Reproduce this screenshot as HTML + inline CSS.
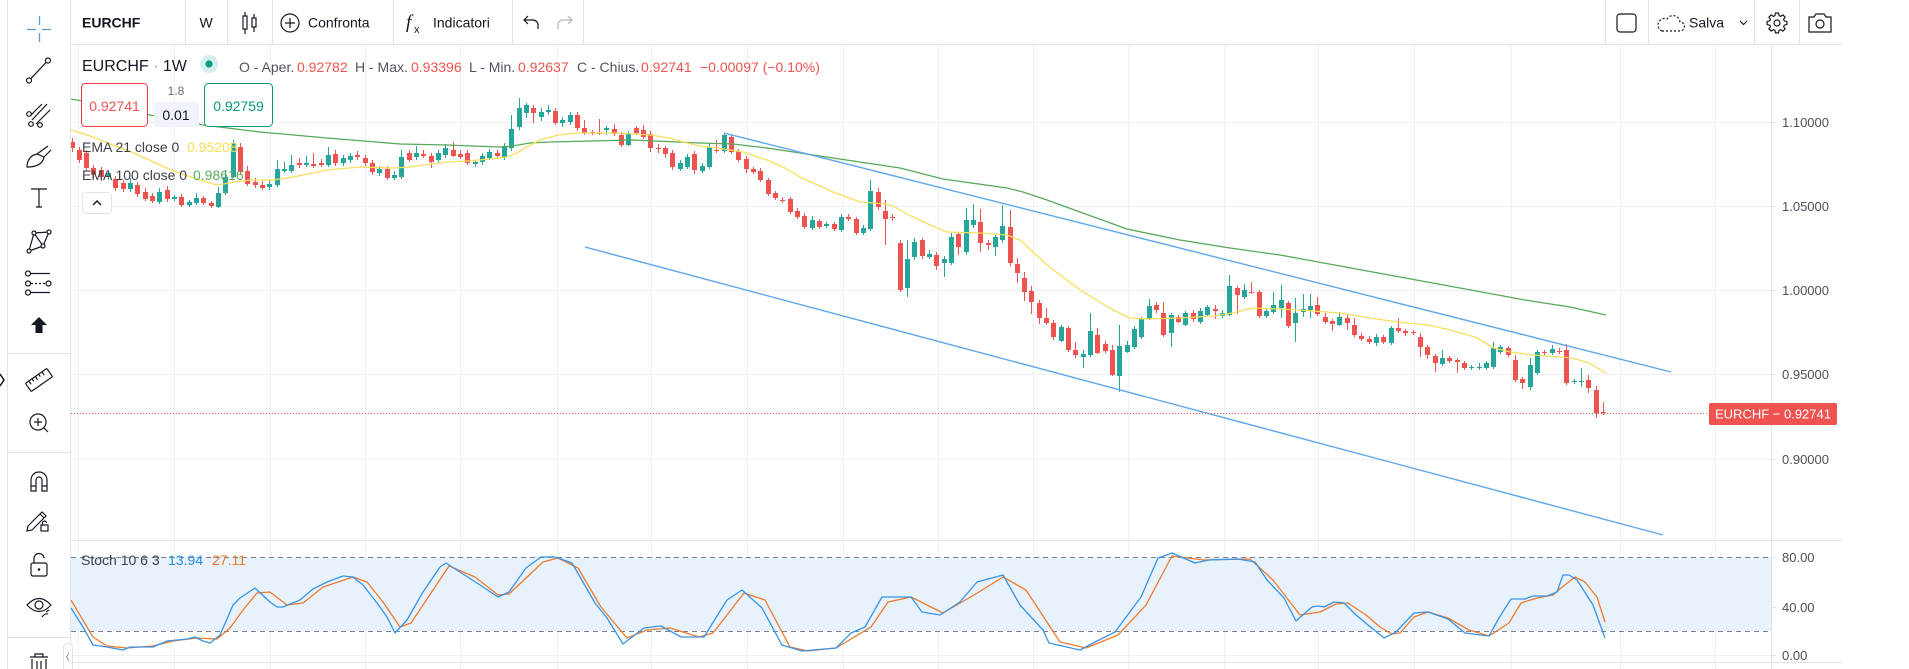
<!DOCTYPE html>
<html><head><meta charset="utf-8">
<style>
html,body{margin:0;padding:0;background:#fff}
body{width:1909px;height:669px;overflow:hidden;position:relative;font-family:"Liberation Sans",Arial,sans-serif}
svg{position:absolute;left:0;top:0}
.clip{position:absolute;left:71px;top:45px;width:1700px;height:495px;overflow:hidden}
.cd{position:absolute;left:-2.67px;top:-45px;height:669px;display:flex}
.cd i{position:relative;flex:none;width:7.34px;height:669px}
.cd i:before{content:"";position:absolute;left:3.17px;width:1px;top:calc(var(--h)*1px);height:calc((var(--l) - var(--h))*1px);background:var(--c)}
.cd i:after{content:"";position:absolute;left:1.17px;width:5px;top:calc(var(--t)*1px);height:calc((var(--b) - var(--t))*1px);background:var(--c)}
.g{--c:#26a69a}.r{--c:#ef5350}
</style></head>
<body>
<svg width="1909" height="669" font-family="Liberation Sans, Arial, sans-serif">
<!-- grid -->
<g stroke="#eef0f4" stroke-width="1">
<path d="M78.5 45V669M174.5 45V669M270.5 45V669M365.5 45V669M460.5 45V669M557.5 45V669M651.5 45V669M747.5 45V669M843.5 45V669M938.5 45V669M1033.5 45V669M1128.5 45V669M1224.5 45V669M1318.5 45V669M1414.5 45V669M1511.5 45V669M1620.5 45V669M1715.5 45V669"/>
<path d="M71 122.5H1771M71 206.5H1771M71 290.5H1771M71 374.5H1771M71 459.5H1771M71 607.5H1771M71 655.5H1771"/>
</g>
<rect x="71" y="557" width="1700" height="74" fill="#e7f2fd"/>
<g stroke="#7d808a" stroke-width="1" stroke-dasharray="5 4">
<path d="M71 557.5H1771M71 631.5H1771"/>
</g>
<!-- borders -->
<g stroke="#e0e3eb" stroke-width="1">
<path d="M7.5 0V669M70.5 0V669M70 44.5H1842M70 540.5H1842M70 662.5H1842M1771.5 44V669"/>
<path d="M185.5 0V44M227.5 0V44M272.5 0V44M393.5 0V44M512.5 0V44M583.5 0V44M1605.5 0V44M1648.5 0V44M1754.5 0V44M1799.5 0V44"/>
<path d="M8 353.5H70M8 452.5H70M8 637.5H70"/>
<path d="M1771 122.5h5M1771 206.5h5M1771 290.5h5M1771 374.5h5M1771 459.5h5M1771 557.5h5M1771 607.5h5M1771 655.5h5"/>
</g>
<!-- left toolbar icons -->
<g fill="none" stroke="#5b9bd5" stroke-width="1.3"><path d="M27 29.5H36M42 29.5H51M39.5 16V25M39.5 33V42"/></g>
<g fill="none" stroke="#131722" stroke-width="1.2">
<line x1="30.8" y1="78.7" x2="46.2" y2="62.3"/><circle cx="29" cy="80.5" r="2.5" fill="#fff"/><circle cx="48" cy="60.5" r="2.5" fill="#fff"/>
<path d="M32 120L47 104M36 124L50 110M30 116L42 104"/><circle cx="29" cy="114" r="2.3" fill="#fff"/><circle cx="31" cy="124" r="2.3" fill="#fff"/><circle cx="40" cy="125" r="2.3" fill="#fff"/>
<path d="M27 167C27 160 31 155 37 154L44 157C43 163 38 167 27 167ZM37 154L48 146M44 157L51 150"/>
<path d="M31 189H47M39 189V207M36 207H42"/>
<path d="M29 251L34 233L43 246L49 232M34 233L49 232M29 251L43 246"/><circle cx="29" cy="251" r="2" fill="#fff"/><circle cx="34" cy="233" r="2" fill="#fff"/><circle cx="43" cy="246" r="2" fill="#fff"/><circle cx="49" cy="232" r="2" fill="#fff"/>
<path d="M31 273.5H50M31 292.5H50"/><path d="M31 283.5H46" stroke-dasharray="2 2"/><circle cx="28" cy="273.5" r="2.5"/><circle cx="28" cy="283.5" r="2.5"/><circle cx="28" cy="292.5" r="2.5"/><circle cx="48.5" cy="283.5" r="2.5"/>
<g transform="rotate(-35 39 380)"><rect x="26" y="375" width="26" height="10" rx="1"/><path d="M30 375v4M34 375v3M38 375v4M42 375v3M46 375v4"/></g>
<circle cx="38" cy="422" r="8"/><path d="M44 428L48 432M34 422H42M38 418V426"/>
<path d="M31 491V480A8 8 0 0 1 47 480V491H42V480A3 3 0 0 0 36 480V491ZM31 486H36M42 486H47"/>
<path d="M28 526L42 512L46 516L32 530L27 531ZM40 514L44 518"/><rect x="41" y="525" width="7" height="6"/><path d="M42.5 525v-2a2 2 0 0 1 4 0"/>
<rect x="31" y="563" width="16" height="13" rx="2"/><path d="M34 563V559A5 5 0 0 1 44 558"/>
<path d="M27 605Q39 592 51 605Q39 618 27 605Z"/><circle cx="39" cy="605" r="4"/><path d="M42 617q3-4 6-3M46 612l3-2"/>
<path d="M30 657H48M35 657V654H43V657M32 659V672H46V659M37 661V670M41 661V670"/>
<path d="M0 374L4 380L0 386" stroke-width="1.5"/>
</g>
<circle cx="39" cy="569.5" r="1.3" fill="#131722"/>
<path d="M39 317L47 325H42.5V333H35.5V325H31Z" fill="#131722"/>
<rect x="63.5" y="643.5" width="9" height="28" rx="4" fill="#fff" stroke="#e0e3eb"/>
<path d="M69 653L66.5 657L69 661" fill="none" stroke="#9598a1" stroke-width="1"/>
<!-- top toolbar icons -->
<g fill="none" stroke="#131722" stroke-width="1.2">
<path d="M245 12V34M254 14V32"/><rect x="243" y="16" width="4" height="13" fill="#fff"/><rect x="252" y="18" width="4" height="9" fill="#fff"/>
<circle cx="290" cy="23" r="9"/><path d="M290 18V28M285 23H295"/>
<path d="M538 29V25A5 5 0 0 0 533 20H524M528 16L524 20L528 24"/>
<rect x="1617" y="14" width="19" height="18" rx="3"/>
<path d="M1662 31H1680A4.5 4.5 0 0 0 1680 22A7 7 0 0 0 1667 19A6 6 0 0 0 1662 31" stroke-dasharray="2 2"/>
<path d="M1740 21L1743.5 24.5L1747 21"/>
<path transform="translate(1777 23)" d="M7.306 -2.095L9.877 -1.564L9.877 1.564L7.306 2.095L6.647 3.684L8.09 5.878L5.878 8.09L3.684 6.647L2.095 7.306L1.564 9.877L-1.564 9.877L-2.095 7.306L-3.684 6.647L-5.878 8.09L-8.09 5.878L-6.647 3.684L-7.306 2.095L-9.877 1.564L-9.877 -1.564L-7.306 -2.095L-6.647 -3.684L-8.09 -5.878L-5.878 -8.09L-3.684 -6.647L-2.095 -7.306L-1.564 -9.877L1.564 -9.877L2.095 -7.306L3.684 -6.647L5.878 -8.09L8.09 -5.878L6.647 -3.684Z"/>
<circle cx="1777" cy="23" r="3"/>
<path d="M1809 17h5l2-3h8l2 3h5v15h-22z"/><circle cx="1820" cy="24" r="4"/>
</g>
<path d="M558 29V25A5 5 0 0 1 563 20H572M568 16L572 20L568 24" fill="none" stroke="#b2b5be" stroke-width="1.2"/>
<!-- toolbar text -->
<g fill="#131722" font-size="14">
<text x="82" y="27.5" font-weight="bold">EURCHF</text>
<text x="199.5" y="27.5">W</text>
<text x="308" y="27.5">Confronta</text>
<text x="406" y="28" font-family="Liberation Serif, serif" font-style="italic" font-size="19">f</text>
<text x="414" y="33" font-size="11">x</text>
<text x="433" y="27.5">Indicatori</text>
<text x="1689" y="27.5">Salva</text>
</g>
<!-- price axis labels -->
<g fill="#4c4f59" font-size="13">
<text x="1782" y="127">1.10000</text>
<text x="1782" y="211">1.05000</text>
<text x="1782" y="295">1.00000</text>
<text x="1782" y="379">0.95000</text>
<text x="1782" y="464">0.90000</text>
<text x="1782" y="562">80.00</text>
<text x="1782" y="612">40.00</text>
<text x="1782" y="660">0.00</text>
</g>
</svg>

<div class="clip"><div class="cd">
<i class=r style="--h:138;--t:142;--b:148;--l:152"></i><i class=r style="--h:147;--t:150;--b:160;--l:163"></i><i class=r style="--h:150;--t:153;--b:168;--l:171"></i><i class=r style="--h:165;--t:168;--b:175;--l:178"></i><i class=r style="--h:167;--t:170;--b:177;--l:181"></i><i class=g style="--h:170;--t:173;--b:177;--l:180"></i><i class=r style="--h:176;--t:179;--b:188;--l:191"></i><i class=r style="--h:180;--t:183;--b:189;--l:192"></i><i class=g style="--h:178;--t:183;--b:189;--l:192"></i><i class=r style="--h:182;--t:185;--b:194;--l:197"></i>
<i class=r style="--h:188;--t:192;--b:199;--l:201"></i><i class=r style="--h:193;--t:196;--b:201;--l:203"></i><i class=g style="--h:188;--t:192;--b:202;--l:204"></i><i class=r style="--h:186;--t:190;--b:199;--l:202"></i><i class=g style="--h:195;--t:197;--b:199;--l:201"></i><i class=r style="--h:194;--t:197;--b:205;--l:207"></i><i class=g style="--h:200;--t:202;--b:205;--l:207"></i><i class=g style="--h:193;--t:198;--b:203;--l:205"></i><i class=r style="--h:196;--t:198;--b:203;--l:205"></i><i class=r style="--h:201;--t:203;--b:206;--l:208"></i>
<i class=g style="--h:187;--t:193;--b:207;--l:208"></i><i class=g style="--h:170;--t:177;--b:193;--l:195"></i><i class=g style="--h:140;--t:143;--b:177;--l:178"></i><i class=r style="--h:143;--t:147;--b:172;--l:175"></i><i class=r style="--h:166;--t:171;--b:184;--l:186"></i><i class=r style="--h:178;--t:182;--b:185;--l:188"></i><i class=r style="--h:181;--t:185;--b:188;--l:190"></i><i class=g style="--h:180;--t:184;--b:187;--l:190"></i><i class=g style="--h:160;--t:169;--b:185;--l:187"></i><i class=g style="--h:162;--t:169;--b:171;--l:173"></i>
<i class=g style="--h:155;--t:165;--b:171;--l:173"></i><i class=r style="--h:158;--t:163;--b:165;--l:168"></i><i class=g style="--h:156;--t:163;--b:165;--l:167"></i><i class=r style="--h:153;--t:164;--b:166;--l:168"></i><i class=r style="--h:159;--t:163;--b:165;--l:167"></i><i class=g style="--h:147;--t:155;--b:165;--l:167"></i><i class=r style="--h:150;--t:154;--b:163;--l:166"></i><i class=g style="--h:155;--t:158;--b:163;--l:166"></i><i class=g style="--h:153;--t:156;--b:160;--l:163"></i><i class=r style="--h:151;--t:155;--b:157;--l:160"></i>
<i class=r style="--h:155;--t:158;--b:163;--l:166"></i><i class=r style="--h:160;--t:163;--b:172;--l:175"></i><i class=g style="--h:166;--t:169;--b:173;--l:176"></i><i class=r style="--h:166;--t:169;--b:178;--l:180"></i><i class=g style="--h:171;--t:175;--b:178;--l:180"></i><i class=g style="--h:150;--t:157;--b:177;--l:179"></i><i class=r style="--h:150;--t:153;--b:160;--l:162"></i><i class=g style="--h:146;--t:153;--b:157;--l:160"></i><i class=r style="--h:150;--t:154;--b:156;--l:158"></i><i class=r style="--h:153;--t:156;--b:162;--l:168"></i>
<i class=g style="--h:150;--t:153;--b:160;--l:163"></i><i class=g style="--h:144;--t:148;--b:155;--l:158"></i><i class=r style="--h:142;--t:150;--b:156;--l:157"></i><i class=r style="--h:150;--t:154;--b:157;--l:159"></i><i class=r style="--h:150;--t:153;--b:163;--l:165"></i><i class=g style="--h:160;--t:162;--b:164;--l:167"></i><i class=g style="--h:153;--t:156;--b:162;--l:165"></i><i class=g style="--h:149;--t:152;--b:158;--l:160"></i><i class=r style="--h:150;--t:153;--b:156;--l:159"></i><i class=g style="--h:143;--t:146;--b:157;--l:160"></i>
<i class=g style="--h:115;--t:129;--b:148;--l:151"></i><i class=g style="--h:98;--t:108;--b:127;--l:130"></i><i class=g style="--h:103;--t:105;--b:113;--l:118"></i><i class=r style="--h:105;--t:108;--b:113;--l:123"></i><i class=g style="--h:108;--t:112;--b:117;--l:121"></i><i class=g style="--h:105;--t:110;--b:112;--l:115"></i><i class=r style="--h:108;--t:111;--b:123;--l:125"></i><i class=g style="--h:117;--t:120;--b:123;--l:127"></i><i class=g style="--h:112;--t:115;--b:122;--l:125"></i><i class=r style="--h:112;--t:115;--b:128;--l:131"></i>
<i class=r style="--h:120;--t:128;--b:133;--l:135"></i><i class=r style="--h:130;--t:132;--b:133;--l:135"></i><i class=r style="--h:119;--t:133;--b:134;--l:135"></i><i class=g style="--h:126;--t:128;--b:130;--l:135"></i><i class=r style="--h:124;--t:129;--b:134;--l:136"></i><i class=r style="--h:132;--t:135;--b:145;--l:147"></i><i class=g style="--h:131;--t:133;--b:145;--l:146"></i><i class=r style="--h:126;--t:128;--b:133;--l:135"></i><i class=r style="--h:125;--t:130;--b:137;--l:139"></i><i class=r style="--h:131;--t:134;--b:148;--l:152"></i>
<i class=r style="--h:144;--t:148;--b:149;--l:153"></i><i class=r style="--h:146;--t:148;--b:154;--l:158"></i><i class=r style="--h:150;--t:153;--b:167;--l:170"></i><i class=g style="--h:160;--t:163;--b:169;--l:171"></i><i class=g style="--h:154;--t:157;--b:167;--l:169"></i><i class=r style="--h:151;--t:154;--b:170;--l:174"></i><i class=g style="--h:163;--t:166;--b:171;--l:173"></i><i class=g style="--h:143;--t:147;--b:167;--l:169"></i><i class=r style="--h:140;--t:150;--b:151;--l:153"></i><i class=g style="--h:133;--t:135;--b:151;--l:153"></i>
<i class=r style="--h:134;--t:137;--b:152;--l:154"></i><i class=r style="--h:149;--t:151;--b:160;--l:162"></i><i class=r style="--h:156;--t:159;--b:169;--l:173"></i><i class=r style="--h:167;--t:169;--b:172;--l:174"></i><i class=r style="--h:168;--t:171;--b:180;--l:182"></i><i class=r style="--h:178;--t:180;--b:194;--l:196"></i><i class=r style="--h:191;--t:193;--b:198;--l:200"></i><i class=r style="--h:197;--t:200;--b:201;--l:203"></i><i class=r style="--h:197;--t:199;--b:212;--l:214"></i><i class=r style="--h:208;--t:211;--b:217;--l:219"></i>
<i class=r style="--h:213;--t:216;--b:227;--l:229"></i><i class=g style="--h:216;--t:220;--b:228;--l:230"></i><i class=r style="--h:219;--t:221;--b:227;--l:229"></i><i class=g style="--h:222;--t:224;--b:226;--l:228"></i><i class=r style="--h:222;--t:224;--b:229;--l:231"></i><i class=g style="--h:214;--t:217;--b:230;--l:232"></i><i class=r style="--h:214;--t:217;--b:219;--l:221"></i><i class=r style="--h:217;--t:219;--b:233;--l:235"></i><i class=g style="--h:225;--t:228;--b:233;--l:235"></i><i class=g style="--h:180;--t:191;--b:229;--l:231"></i>
<i class=r style="--h:188;--t:192;--b:207;--l:210"></i><i class=r style="--h:200;--t:211;--b:219;--l:245"></i><i class=r style="--h:214;--t:217;--b:218;--l:221"></i><i class=r style="--h:240;--t:243;--b:290;--l:292"></i><i class=g style="--h:240;--t:259;--b:288;--l:297"></i><i class=g style="--h:238;--t:242;--b:257;--l:260"></i><i class=r style="--h:238;--t:240;--b:256;--l:259"></i><i class=g style="--h:250;--t:254;--b:257;--l:259"></i><i class=r style="--h:252;--t:255;--b:266;--l:270"></i><i class=g style="--h:256;--t:259;--b:263;--l:277"></i>
<i class=g style="--h:233;--t:237;--b:263;--l:265"></i><i class=r style="--h:232;--t:234;--b:247;--l:255"></i><i class=g style="--h:208;--t:220;--b:252;--l:255"></i><i class=g style="--h:204;--t:220;--b:225;--l:228"></i><i class=r style="--h:209;--t:222;--b:243;--l:252"></i><i class=r style="--h:240;--t:243;--b:245;--l:250"></i><i class=g style="--h:235;--t:237;--b:247;--l:256"></i><i class=g style="--h:205;--t:226;--b:240;--l:243"></i><i class=r style="--h:210;--t:227;--b:263;--l:266"></i><i class=r style="--h:258;--t:264;--b:273;--l:283"></i>
<i class=r style="--h:272;--t:278;--b:292;--l:301"></i><i class=r style="--h:286;--t:291;--b:302;--l:314"></i><i class=r style="--h:300;--t:303;--b:318;--l:324"></i><i class=r style="--h:308;--t:318;--b:323;--l:325"></i><i class=r style="--h:320;--t:323;--b:337;--l:340"></i><i class=g style="--h:325;--t:327;--b:341;--l:342"></i><i class=r style="--h:326;--t:328;--b:350;--l:352"></i><i class=r style="--h:342;--t:350;--b:355;--l:358"></i><i class=g style="--h:350;--t:354;--b:357;--l:368"></i><i class=g style="--h:313;--t:331;--b:355;--l:357"></i>
<i class=r style="--h:328;--t:335;--b:353;--l:354"></i><i class=r style="--h:341;--t:344;--b:351;--l:353"></i><i class=r style="--h:345;--t:350;--b:375;--l:376"></i><i class=g style="--h:325;--t:346;--b:376;--l:392"></i><i class=g style="--h:341;--t:345;--b:352;--l:353"></i><i class=g style="--h:326;--t:329;--b:347;--l:349"></i><i class=g style="--h:317;--t:319;--b:337;--l:339"></i><i class=g style="--h:299;--t:306;--b:319;--l:320"></i><i class=r style="--h:302;--t:305;--b:310;--l:313"></i><i class=r style="--h:302;--t:313;--b:335;--l:337"></i>
<i class=g style="--h:313;--t:315;--b:333;--l:347"></i><i class=r style="--h:315;--t:317;--b:322;--l:323"></i><i class=g style="--h:311;--t:313;--b:325;--l:326"></i><i class=r style="--h:310;--t:313;--b:319;--l:322"></i><i class=g style="--h:308;--t:311;--b:322;--l:324"></i><i class=g style="--h:305;--t:307;--b:315;--l:316"></i><i class=r style="--h:305;--t:309;--b:311;--l:319"></i><i class=g style="--h:310;--t:313;--b:316;--l:318"></i><i class=g style="--h:275;--t:286;--b:315;--l:316"></i><i class=r style="--h:286;--t:288;--b:295;--l:314"></i>
<i class=g style="--h:284;--t:290;--b:297;--l:299"></i><i class=r style="--h:282;--t:292;--b:293;--l:294"></i><i class=r style="--h:290;--t:292;--b:316;--l:318"></i><i class=g style="--h:308;--t:311;--b:316;--l:318"></i><i class=g style="--h:292;--t:305;--b:312;--l:314"></i><i class=g style="--h:285;--t:300;--b:308;--l:318"></i><i class=r style="--h:301;--t:303;--b:326;--l:328"></i><i class=g style="--h:298;--t:313;--b:323;--l:342"></i><i class=g style="--h:294;--t:309;--b:312;--l:317"></i><i class=g style="--h:294;--t:306;--b:310;--l:318"></i>
<i class=r style="--h:297;--t:305;--b:314;--l:316"></i><i class=r style="--h:313;--t:317;--b:322;--l:324"></i><i class=r style="--h:319;--t:321;--b:324;--l:331"></i><i class=g style="--h:312;--t:317;--b:325;--l:326"></i><i class=r style="--h:315;--t:318;--b:323;--l:330"></i><i class=r style="--h:318;--t:325;--b:335;--l:337"></i><i class=r style="--h:333;--t:336;--b:339;--l:341"></i><i class=r style="--h:336;--t:339;--b:342;--l:344"></i><i class=g style="--h:334;--t:337;--b:343;--l:346"></i><i class=r style="--h:335;--t:337;--b:342;--l:344"></i>
<i class=g style="--h:326;--t:328;--b:343;--l:345"></i><i class=r style="--h:318;--t:328;--b:331;--l:333"></i><i class=r style="--h:329;--t:331;--b:333;--l:336"></i><i class=r style="--h:330;--t:332;--b:333;--l:335"></i><i class=r style="--h:333;--t:337;--b:347;--l:357"></i><i class=r style="--h:345;--t:347;--b:355;--l:359"></i><i class=r style="--h:354;--t:356;--b:363;--l:372"></i><i class=g style="--h:350;--t:358;--b:364;--l:366"></i><i class=r style="--h:356;--t:358;--b:361;--l:363"></i><i class=r style="--h:358;--t:360;--b:362;--l:373"></i>
<i class=r style="--h:361;--t:363;--b:368;--l:370"></i><i class=g style="--h:365;--t:367;--b:368;--l:370"></i><i class=g style="--h:363;--t:367;--b:368;--l:370"></i><i class=g style="--h:361;--t:363;--b:368;--l:370"></i><i class=g style="--h:342;--t:348;--b:367;--l:369"></i><i class=g style="--h:345;--t:347;--b:352;--l:354"></i><i class=r style="--h:346;--t:348;--b:355;--l:357"></i><i class=r style="--h:355;--t:360;--b:380;--l:382"></i><i class=r style="--h:377;--t:379;--b:383;--l:389"></i><i class=g style="--h:358;--t:365;--b:387;--l:390"></i>
<i class=g style="--h:350;--t:352;--b:373;--l:375"></i><i class=r style="--h:350;--t:352;--b:353;--l:355"></i><i class=g style="--h:345;--t:349;--b:353;--l:355"></i><i class=r style="--h:348;--t:351;--b:352;--l:354"></i><i class=r style="--h:344;--t:350;--b:383;--l:385"></i><i class=g style="--h:379;--t:381;--b:382;--l:384"></i><i class=g style="--h:368;--t:381;--b:382;--l:387"></i><i class=r style="--h:375;--t:380;--b:388;--l:393"></i><i class=r style="--h:386;--t:390;--b:413;--l:418"></i><i class=r style="--h:402;--t:412;--b:413;--l:415"></i>
</div></div>

<svg width="1909" height="669" font-family="Liberation Sans, Arial, sans-serif">
<defs>
<clipPath id="cm"><rect x="71" y="45" width="1700" height="495"/></clipPath>
<clipPath id="cs"><rect x="71" y="541" width="1700" height="121"/></clipPath>
</defs>
<g clip-path="url(#cm)" fill="none" stroke-linejoin="round">
<polyline stroke="#57a85b" stroke-width="1.3" points="71,99 100,104 150,115 203,125 260,132 327,138 400,144 446,145 500,147 512,146 530,143 550,142 633,140 700,143 733,144 767,148 800,153 833,158 880,165 900,168 943,179 1007,188 1023,192 1047,200 1080,212 1127,229 1180,240 1230,248 1280,255 1340,266 1400,277 1460,288 1525,300 1570,307 1606,315"/>
<polyline stroke="#f5df5c" stroke-width="1.3" points="71,130 90,136 110,144 134,153 160,165 179,173 200,180 217,185 235,182 250,180 273,180 293,177 327,170 360,167 393,168 410,167 446,162 467,161 490,159 507,157 517,153 527,147 540,140 558,135 577,133 617,133 650,135 670,138 683,142 700,146 717,148 743,152 767,160 785,168 800,177 833,192 860,202 885,204 895,207 907,214 930,225 947,232 980,233 1007,235 1020,240 1047,265 1080,290 1113,310 1130,318 1147,319 1180,318 1213,316 1233,313 1253,308 1280,309 1313,311 1340,313 1370,318 1397,322 1428,325 1450,330 1475,337 1494,348 1510,352 1533,355 1560,357 1572,358 1589,363 1606,373"/>
<line x1="724" y1="133" x2="1671" y2="372" stroke="#5ea7ea" stroke-width="1.4"/>
<line x1="585" y1="247" x2="1663" y2="535" stroke="#5ea7ea" stroke-width="1.4"/>
<line x1="71" y1="413.5" x2="1709" y2="413.5" stroke="#ef5350" stroke-width="1" stroke-dasharray="1 2"/>
</g>
<g clip-path="url(#cs)" fill="none" stroke-linejoin="round" stroke-width="1.3">
<polyline stroke="#ef7a2d" points="71,600 93,637 107,646 127,648 153,646 173,641 197,638 217,639 230,628 243,610 257,593 270,592 287,605 303,603 323,587 353,577 367,582 383,602 400,627 411,623 449,566 475,577 498,595 509,594 543,562 558,558 578,568 601,607 627,638 647,630 670,628 699,637 713,633 744,593 765,600 790,647 808,651 836,648 871,627 888,602 911,597 943,613 974,595 1003,577 1026,590 1060,642 1086,648 1118,635 1146,605 1172,556 1204,560 1250,559 1273,580 1300,615 1320,612 1336,604 1348,603 1366,615 1380,627 1392,634 1400,633 1414,617 1428,612 1448,618 1469,630 1489,636 1509,623 1521,603 1537,598 1553,595 1561,588 1575,577 1585,582 1597,597 1605,622"/>
<polyline stroke="#3894e6" points="71,608 83,627 93,645 107,647 123,650 130,647 153,647 167,641 187,639 195,637 203,641 210,643 220,635 233,605 240,598 255,588 270,602 277,607 283,607 300,600 313,589 327,582 343,576 353,577 363,585 377,603 387,617 395,633 407,620 423,592 440,567 446,563 480,585 498,597 509,592 526,568 541,557 555,557 572,563 595,603 607,618 623,644 644,628 661,626 681,637 704,637 727,600 742,590 762,608 782,645 802,651 836,648 851,633 865,627 882,597 911,597 922,612 940,615 960,602 977,582 1003,575 1020,605 1043,630 1049,643 1080,650 1095,642 1115,632 1141,597 1158,558 1172,553 1195,563 1209,560 1238,559 1255,562 1267,580 1284,598 1296,621 1312,607 1318,606 1324,607 1334,602 1344,603 1356,615 1368,625 1384,638 1396,632 1414,613 1428,612 1448,619 1465,633 1489,636 1499,618 1511,599 1525,599 1533,596 1547,596 1557,592 1563,575 1569,575 1577,580 1593,605 1605,638"/>
</g>
<!-- price label -->
<rect x="1709" y="403" width="128" height="22" rx="2" fill="#ef5350"/>
<text x="1773" y="418.5" fill="#fff" font-size="13" text-anchor="middle">EURCHF − 0.92741</text>
<!-- legend -->
<text x="82" y="71" font-size="16" fill="#131722">EURCHF <tspan fill="#9598a1">·</tspan> 1W</text>
<circle cx="209" cy="64" r="9" fill="#d5efeb"/><circle cx="209" cy="64" r="3.6" fill="#089981"/>
<g font-size="14">
<text x="239" y="72" fill="#50535e">O - Aper.</text><text x="297" y="72" fill="#ef5350">0.92782</text>
<text x="355" y="72" fill="#50535e">H - Max.</text><text x="411" y="72" fill="#ef5350">0.93396</text>
<text x="469" y="72" fill="#50535e">L - Min.</text><text x="518" y="72" fill="#ef5350">0.92637</text>
<text x="577" y="72" fill="#50535e">C - Chius.</text><text x="641" y="72" fill="#ef5350">0.92741</text>
<text x="700" y="72" fill="#ef5350">−0.00097 (−0.10%)</text>
</g>
<rect x="81.5" y="83.5" width="66" height="43" rx="4" fill="#fff" stroke="#f23645"/>
<text x="114.5" y="111" font-size="14" fill="#ef5350" text-anchor="middle">0.92741</text>
<text x="176" y="95" font-size="12" fill="#6a6d78" text-anchor="middle">1.8</text>
<rect x="154" y="102" width="45" height="25" rx="3" fill="#f0f3fa"/>
<text x="176" y="120" font-size="14" fill="#131722" text-anchor="middle">0.01</text>
<rect x="204.5" y="83.5" width="68" height="43" rx="4" fill="#fff" stroke="#089981"/>
<text x="238.5" y="111" font-size="14" fill="#089981" text-anchor="middle">0.92759</text>
<g font-size="14">
<text x="82" y="152" fill="#3e414b">EMA 21 close 0</text><text x="187" y="152" fill="#f5df4d">0.95208</text>
<text x="82" y="180" fill="#3e414b">EMA 100 close 0</text><text x="193" y="180" fill="#5cae5f">0.98616</text>
<text x="81" y="565" fill="#3e414b">Stoch 10 6 3</text><text x="168" y="565" fill="#2a8de0">13.94</text><text x="212" y="565" fill="#ef7a2d">27.11</text>
</g>
<rect x="82.5" y="192.5" width="29" height="21" rx="4" fill="#fff" stroke="#e0e3eb"/>
<path d="M93 205L97 201L101 205" fill="none" stroke="#131722" stroke-width="1.4"/>
</svg>
</body></html>
